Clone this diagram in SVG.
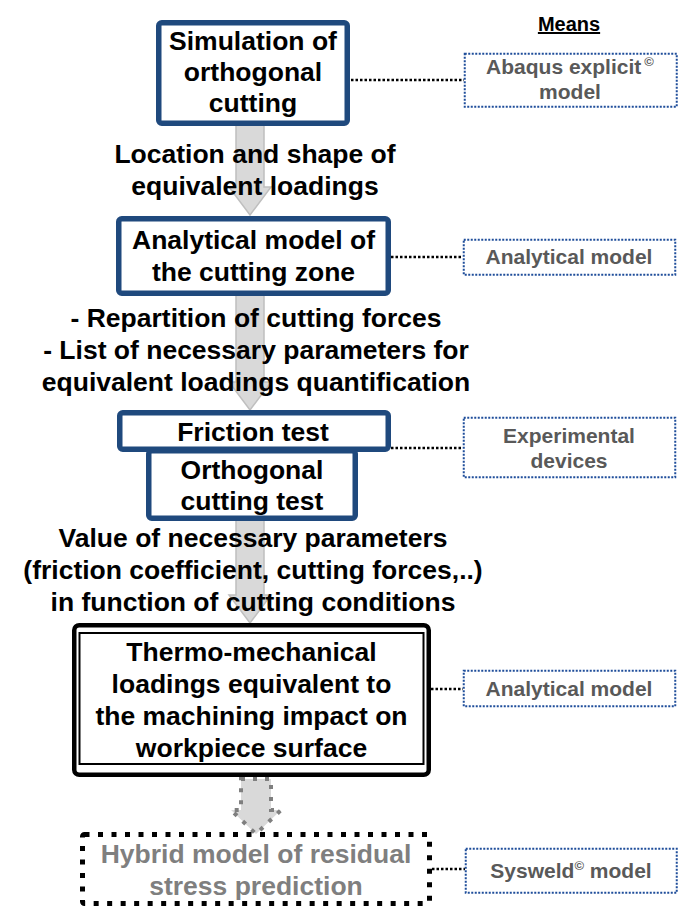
<svg xmlns="http://www.w3.org/2000/svg" width="684" height="910" viewBox="0 0 684 910">
<style>
.nb{fill:#fff;stroke:#1F497D;stroke-width:5.5}
.t{font-family:"Liberation Sans",Arial,sans-serif;font-weight:bold;font-size:26.5px;fill:#000;text-anchor:middle}
.m{font-family:"Liberation Sans",Arial,sans-serif;font-weight:bold;font-size:21px;fill:#595959;text-anchor:middle}
.sup{font-size:13px}
.mb{fill:#fff;stroke:#1F4E9A;stroke-width:2;stroke-dasharray:2 1.5}
.conn{stroke:#000;stroke-width:2.5;stroke-dasharray:2.5 2;fill:none}
.arr{fill:#d9d9d9;stroke:#bfbfbf;stroke-width:1.5}
.darr{fill:#d9d9d9;stroke:#7f7f7f;stroke-width:4;stroke-dasharray:4 8}
</style>
<rect width="684" height="910" fill="#fff"/>
<g id="connectors">
<path class="arr" d="M236,124 H264 V187 H271 L250,215 L229,187 H236 Z"/>
<path class="arr" d="M236,294 H264 V382 H271 L250,410 L229,382 H236 Z"/>
<path class="arr" d="M236,519 H264 V595 H271 L250,623 L229,595 H236 Z"/>
<path class="darr" d="M241,779 H271 V810 H281 L256,834 L231,810 H241 Z"/>
<line class="conn" x1="351" y1="80" x2="464" y2="80"/>
<line class="conn" x1="391" y1="257" x2="463" y2="257"/>
<line class="conn" x1="391" y1="448" x2="463" y2="448"/>
<line class="conn" x1="431" y1="689" x2="463" y2="689"/>
<line class="conn" x1="432" y1="869" x2="465" y2="869"/>
<text class="t"><tspan x="255" y="163">Location and shape of</tspan><tspan x="255" y="195">equivalent loadings</tspan></text>
<text class="t"><tspan x="256" y="327">- Repartition of cutting forces</tspan><tspan x="256" y="359">- List of necessary parameters for</tspan><tspan x="256" y="391">equivalent loadings quantification</tspan></text>
<text class="t"><tspan x="253" y="547">Value of necessary parameters</tspan><tspan x="253" y="579">(friction coefficient, cutting forces,..)</tspan><tspan x="253" y="611">in function of cutting conditions</tspan></text>
</g>
<g id="means-title">
<text x="569" y="31" style="font-family:'Liberation Sans',Arial,sans-serif;font-weight:bold;font-size:20px;text-anchor:middle;text-decoration:underline">Means</text>
</g>
<g id="sim">
<rect class="nb" x="158.75" y="22.75" width="188.5" height="100.5" rx="3"/>
<text class="t"><tspan x="253" y="50">Simulation of</tspan><tspan x="253" y="81">orthogonal</tspan><tspan x="253" y="112">cutting</tspan></text>
</g>
<g id="abaqus">
<rect class="mb" x="464.75" y="53.75" width="212" height="53"/>
<text class="m"><tspan x="570" y="74">Abaqus explicit</tspan><tspan class="sup" dx="3" dy="-8">©</tspan><tspan x="570" y="99">model</tspan></text>
</g>
<g id="analytical-zone">
<rect class="nb" x="118.75" y="218.75" width="269.5" height="74.5" rx="3"/>
<text class="t"><tspan x="253.5" y="249">Analytical model of</tspan><tspan x="253.5" y="281">the cutting zone</tspan></text>
</g>
<g id="means-analytical-1">
<rect class="mb" x="463.75" y="239.75" width="211.5" height="35"/>
<text class="m" x="569" y="264">Analytical model</text>
</g>
<g id="orthogonal-test">
<rect class="nb" x="148.75" y="450.75" width="206.5" height="67.5" rx="3"/>
<text class="t"><tspan x="252" y="479">Orthogonal</tspan><tspan x="252" y="510">cutting test</tspan></text>
</g>
<g id="friction-test">
<rect class="nb" x="119.75" y="412.75" width="268.5" height="36.5" rx="3"/>
<text class="t" x="253" y="441">Friction test</text>
</g>
<g id="experimental">
<rect class="mb" x="463.75" y="417.75" width="211.5" height="59.5"/>
<text class="m"><tspan x="569" y="443">Experimental</tspan><tspan x="569" y="468">devices</tspan></text>
</g>
<g id="thermo">
<rect x="74.25" y="625.25" width="354.5" height="149.5" rx="5" fill="#fff" stroke="#000" stroke-width="4.5"/>
<rect x="79.5" y="633" width="344" height="131" fill="none" stroke="#000" stroke-width="2"/>
<text class="t"><tspan x="251.5" y="661">Thermo-mechanical</tspan><tspan x="251.5" y="693">loadings equivalent to</tspan><tspan x="251.5" y="725">the machining impact on</tspan><tspan x="251.5" y="757">workpiece surface</tspan></text>
</g>
<g id="means-analytical-2">
<rect class="mb" x="463.75" y="670.75" width="211.5" height="35.5"/>
<text class="m" x="569" y="696">Analytical model</text>
</g>
<g id="hybrid">
<rect x="82.5" y="834.5" width="347" height="69" rx="2" fill="#fff" stroke="#000" stroke-width="5" stroke-dasharray="5 8.5"/>
<text class="t" style="fill:#7f7f7f"><tspan x="256" y="863">Hybrid model of residual</tspan><tspan x="256" y="895">stress prediction</tspan></text>
</g>
<g id="sysweld">
<rect class="mb" x="465.75" y="848.75" width="211" height="44"/>
<text class="m"><tspan x="571" y="878">Sysweld</tspan><tspan class="sup" dy="-8">©</tspan><tspan dy="8"> model</tspan></text>
</g>
</svg>
